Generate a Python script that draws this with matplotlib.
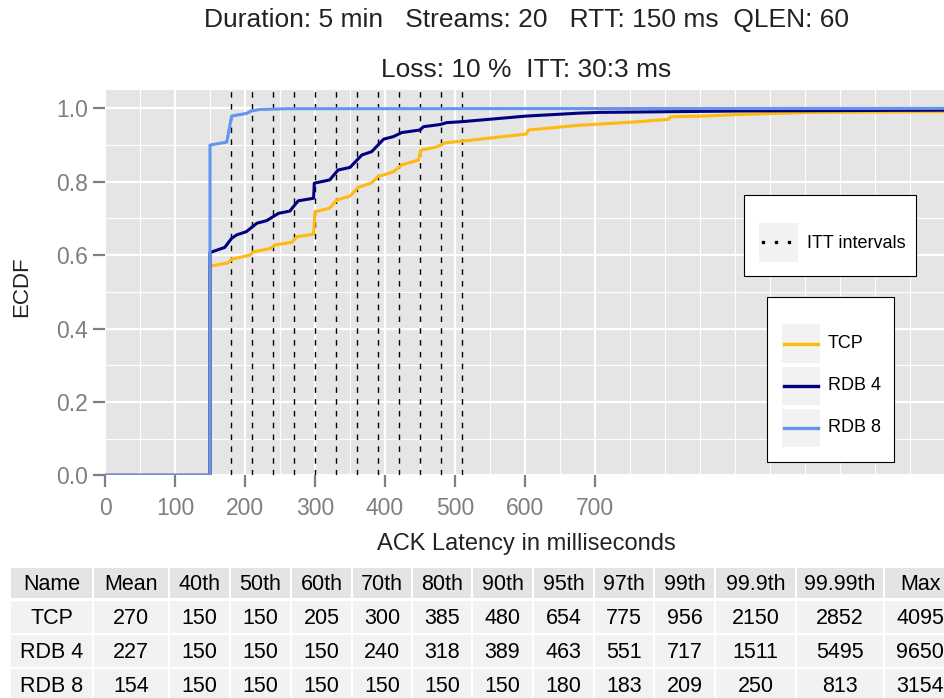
import matplotlib
matplotlib.use("Agg")
import matplotlib.pyplot as plt
from matplotlib.patches import Rectangle
from matplotlib.lines import Line2D

plt.rcParams['font.family'] = ['Liberation Sans', 'DejaVu Sans']

# ---------------- data ----------------
series_names = ["TCP", "RDB 4", "RDB 8"]
series_colors = ["#FFB90F", "#000080", "#6495ED"]

tcp_ms = [0, 150, 150, 176, 181, 207, 212, 236, 243, 267, 274, 298, 300, 321, 331, 350, 362, 381,
          390, 412, 424, 448, 451, 474, 486, 512, 602, 605, 678, 750, 805, 808, 855, 902, 954,
          1012, 1200, 1300]
tcp_ecdf = [0, 0, 0.570, 0.579, 0.589, 0.600, 0.609, 0.618, 0.628, 0.635, 0.650, 0.657, 0.718,
            0.728, 0.750, 0.761, 0.785, 0.797, 0.814, 0.827, 0.846, 0.859, 0.886, 0.895, 0.906,
            0.911, 0.930, 0.941, 0.954, 0.962, 0.970, 0.977, 0.979, 0.983, 0.986, 0.989, 0.991,
            0.992]

rdb4_ms = [0, 150, 150, 171, 181, 188, 202, 217, 231, 248, 264, 276, 298, 299, 321, 333, 350,
           367, 381, 398, 412, 424, 450, 455, 479, 488, 512, 602, 678, 707, 917, 1200, 1300]
rdb4_ecdf = [0, 0, 0.607, 0.621, 0.646, 0.655, 0.664, 0.687, 0.694, 0.714, 0.720, 0.748, 0.755,
             0.796, 0.805, 0.832, 0.839, 0.873, 0.882, 0.916, 0.923, 0.934, 0.941, 0.950, 0.956,
             0.961, 0.964, 0.979, 0.987, 0.989, 0.993, 0.995, 0.996]

rdb8_ms = [0, 150, 150, 174, 177, 181, 193, 202, 209, 221, 260, 1300]
rdb8_ecdf = [0, 0, 0.900, 0.908, 0.940, 0.979, 0.983, 0.986, 0.993, 0.997, 0.999, 1.0]

itt_intervals = [180, 210, 240, 270, 300, 330, 360, 390, 420, 450, 480, 510]

x_major = [0, 100, 200, 300, 400, 500, 600, 700]
x_minor = [50, 150, 250, 350, 450, 550, 650, 750, 800, 850, 900, 950, 1000, 1050, 1100, 1150]
y_major = [0.0, 0.2, 0.4, 0.6, 0.8, 1.0]
y_minor = [0.1, 0.3, 0.5, 0.7, 0.9]

title_line1 = "Duration: 5 min   Streams: 20   RTT: 150 ms  QLEN: 60"
title_line2 = "Loss: 10 %  ITT: 30:3 ms"
x_label = "ACK Latency in milliseconds"
y_label = "ECDF"

table_header = ["Name", "Mean", "40th", "50th", "60th", "70th", "80th", "90th", "95th",
                "97th", "99th", "99.9th", "99.99th", "Max"]
table_tcp = ["TCP", "270", "150", "150", "205", "300", "385", "480", "654", "775", "956",
             "2150", "2852", "4095"]
table_rdb4 = ["RDB 4", "227", "150", "150", "150", "240", "318", "389", "463", "551", "717",
              "1511", "5495", "9650"]
table_rdb8 = ["RDB 8", "154", "150", "150", "150", "150", "150", "150", "180", "183", "209",
              "250", "813", "3154"]

# ---------------- figure ----------------
W, H = 944, 698
fig = plt.figure(figsize=(W / 100, H / 100), dpi=100)


def fx(x):
    return x / W


def fy(y):
    return 1 - y / H


left_px, right_px, top_px, bottom_px = 105, 944, 90, 475.3
ax = fig.add_axes([fx(left_px), fy(bottom_px), fx(right_px - left_px), (bottom_px - top_px) / H])
ax.set_facecolor("#E5E5E5")
for s in ax.spines.values():
    s.set_visible(False)

ax.set_xlim(0, (right_px - left_px) / 0.7)
ax.set_ylim(0, 1.05)

ax.set_xticks(x_major)
ax.set_xticks(x_minor, minor=True)
ax.set_yticks(y_major)
ax.set_yticks(y_minor, minor=True)
ax.set_yticklabels([f"{v:.1f}" for v in y_major])
ax.grid(which="major", color="white", linewidth=1.6)
ax.grid(which="minor", color="white", linewidth=0.8)
ax.set_axisbelow(True)
ax.tick_params(which="major", length=8.5, width=1.6, color="#7F7F7F", labelcolor="#7F7F7F",
               labelsize=16.5, pad=4)
ax.tick_params(axis="x", which="major", pad=7)
ax.tick_params(which="minor", length=0)

for xv in itt_intervals:
    ax.axvline(xv, color="black", linewidth=1.0, linestyle=(0, (4, 4.5)), zorder=2)

series = [(tcp_ms, tcp_ecdf), (rdb4_ms, rdb4_ecdf), (rdb8_ms, rdb8_ecdf)]
for (xs, ys), c in zip(series, series_colors):
    ax.plot(xs, ys, color=c, linewidth=2.2, zorder=3, solid_joinstyle="round")

# titles / labels
fig.text(fx(526), fy(20), title_line1, ha="center", va="center", fontsize=19, color="#222222")
fig.text(fx(526), fy(70), title_line2, ha="center", va="center", fontsize=19, color="#222222")
fig.text(fx(526), fy(544), x_label, ha="center", va="center", fontsize=17, color="#222222")
fig.text(fx(22), fy(287), y_label, ha="center", va="center", fontsize=16, color="#222222",
         rotation=90)

# ---------------- legends ----------------
def rect_px(x0, y0, x1, y1, **kw):
    r = Rectangle((fx(x0), fy(y1)), fx(x1 - x0), (y1 - y0) / H, transform=fig.transFigure, **kw)
    fig.add_artist(r)


rect_px(744, 195, 916, 276, facecolor="white", edgecolor="black", linewidth=0.8, zorder=5)
rect_px(759, 223, 798, 262, facecolor="#F2F2F2", edgecolor="none", zorder=6)
fig.add_artist(Line2D([fx(763), fx(776), fx(789)], [fy(242)] * 3, transform=fig.transFigure,
                      linestyle="none", marker="s", markersize=2.0, color="black", zorder=7))
fig.text(fx(807), fy(243), "ITT intervals", ha="left", va="center", fontsize=13, color="black",
         zorder=7)

rect_px(767, 297, 894, 462, facecolor="white", edgecolor="black", linewidth=0.8, zorder=5)
key_rows = [(324, 363), (367, 405), (409, 447)]
for (y0, y1), name, c in zip(key_rows, series_names, series_colors):
    rect_px(782, y0, 820, y1, facecolor="#F2F2F2", edgecolor="none", zorder=6)
    yc = (y0 + y1) / 2
    fig.add_artist(Line2D([fx(784), fx(818)], [fy(yc), fy(yc)], transform=fig.transFigure,
                          color=c, linewidth=2.4, zorder=7))
    fig.text(fx(828), fy(yc), name, ha="left", va="center", fontsize=13, color="black", zorder=7)

# ---------------- table ----------------
col_left = [11, 94, 170, 231, 292, 353, 413, 473, 534, 595, 655, 716, 797, 885]
col_right = [92, 168, 229, 290, 351, 411, 471, 532, 593, 653, 714, 795, 883, 955]
row_top = [568, 601, 635, 669]
row_bot = [598, 633, 667, 701]
rows = [table_header, table_tcp, table_rdb4, table_rdb8]
for ri, row in enumerate(rows):
    bg = "#E4E4E4" if ri == 0 else "#F2F2F2"
    for ci, val in enumerate(row):
        rect_px(col_left[ci], row_top[ri], col_right[ci], row_bot[ri], facecolor=bg,
                edgecolor="none", zorder=1)
        fig.text(fx((col_left[ci] + col_right[ci]) / 2), fy((row_top[ri] + row_bot[ri]) / 2 + 1),
                 val, ha="center", va="center", fontsize=15.5, color="black")

fig.savefig("out.png", dpi=100)
